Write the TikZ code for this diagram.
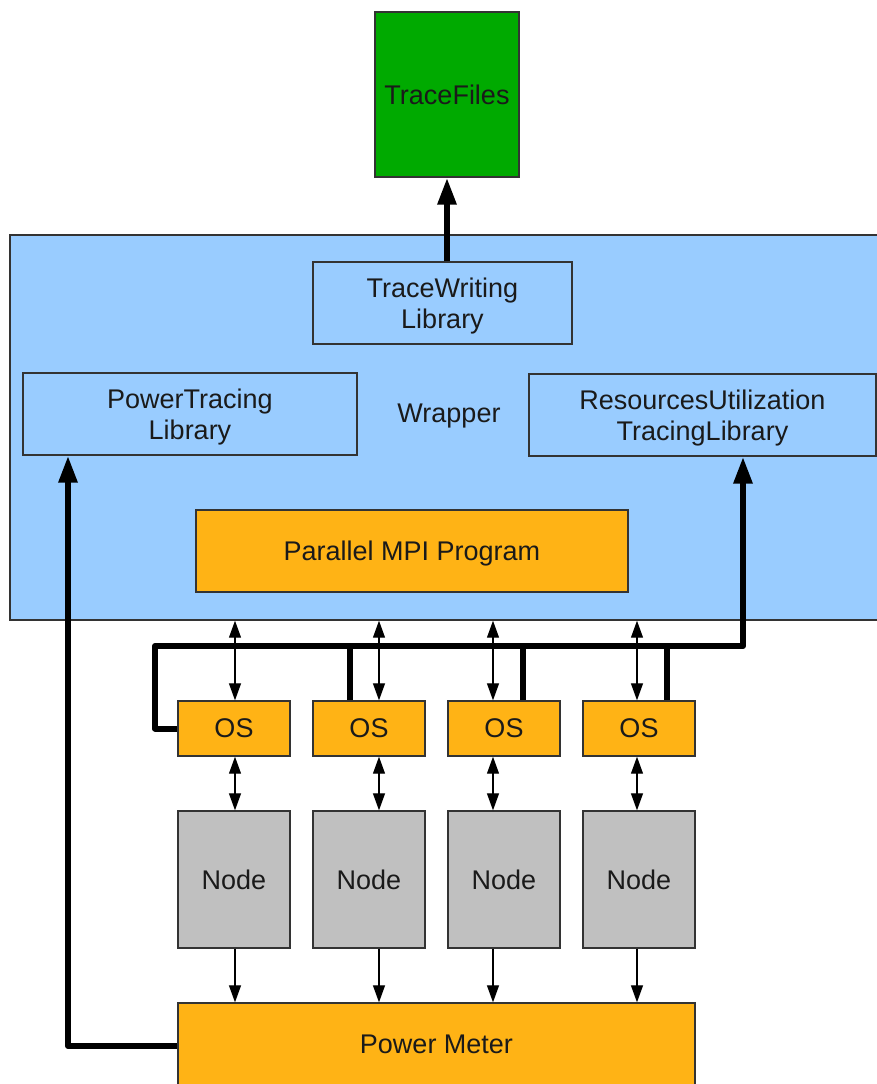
\documentclass[tikz,border=0pt]{standalone}
\usepackage{fontspec}
\setmainfont{Liberation Sans}
\usetikzlibrary{arrows.meta}
\definecolor{wrapblue}{HTML}{99CCFF}
\definecolor{orfill}{HTML}{FFB315}
\definecolor{trgreen}{HTML}{00AA00}
\definecolor{ndgray}{HTML}{C0C0C0}
\definecolor{bord}{HTML}{333333}
\definecolor{txt}{HTML}{1A1A1A}
\begin{document}
\begin{tikzpicture}[x=0.5pt,y=-0.5pt,
  font=\fontsize{13.5}{15.5}\selectfont,
  box/.style={draw=bord, line width=0.7pt, inner sep=0pt, text=txt, align=center, text depth=0pt},
  bluebox/.style={box, fill=wrapblue},
  orbox/.style={box, fill=orfill},
  graybox/.style={box, fill=ndgray},
  greenbox/.style={box, fill=trgreen},
  thin/.style={line width=0.6pt, -{Triangle[length=8.5pt,width=6pt]}},
  dbl/.style={line width=0.6pt, {Triangle[length=8.5pt,width=6pt]}-{Triangle[length=8.5pt,width=6pt]}},
  heavy/.style={line width=3pt, line join=round, -{Triangle[length=13.5pt,width=9pt]}},
  heavyline/.style={line width=3pt, line join=round}]
\useasboundingbox (0,0) rectangle (877,1084);
\begin{scope}
\clip (0,0) rectangle (877,1084);
\node[greenbox, minimum width=72pt, minimum height=82.5pt] (tf) at (447,94.5) {TraceFiles};
\node[bluebox, minimum width=440pt, minimum height=192.5pt] (wrap) at (450,427.5) {};
\node[text=txt, text depth=0pt] (wraplabel) at (449,413) {Wrapper};
\node[bluebox, minimum width=129.5pt, minimum height=41pt] (tw) at (442.5,303) {TraceWriting\\Library};
\node[bluebox, minimum width=167pt, minimum height=41pt] (pt) at (190,414) {PowerTracing\\Library};
\node[bluebox, minimum width=173.5pt, minimum height=41pt] (ru) at (702.5,415) {ResourcesUtilization\\TracingLibrary};
\node[orbox, minimum width=216pt, minimum height=41pt] (mpi) at (412,551) {Parallel MPI Program};
\foreach \i/\cx in {1/234,2/369,3/504,4/639}{
  \node[orbox, minimum width=56pt, minimum height=27.5pt] (os\i) at (\cx,728.5) {OS};
  \node[graybox, minimum width=56pt, minimum height=68.5pt] (nd\i) at (\cx,879.5) {Node};
}
\node[orbox, minimum width=258.5pt, minimum height=41.5pt] (pm) at (436.5,1044.5) {Power Meter};

% thick arrow to trace files
\draw[heavy] (tf.south |- tw.north) -- (tf.south);

% arrow columns
\foreach \i/\ax in {1/235,2/379,3/493,4/637}{
  \coordinate (a\i) at (\ax,0);
  \draw[dbl] (wrap.south -| a\i) -- (os\i.north -| a\i);
  \draw[dbl] (os\i.south -| a\i) -- (nd\i.north -| a\i);
  \draw[thin] (nd\i.south -| a\i) -- (pm.north -| a\i);
}

% resources utilization bus
\coordinate (busl) at (155,646);
\coordinate (busr) at (743,646);
\draw[heavy] (os1.west) -- (os1.west -| busl) -- (busl) -- (busr) -- (ru.south -| busr);
\foreach \i/\dx in {2/350,3/522.5,4/666.5}{
  \coordinate (d\i) at (\dx,646);
  \draw[heavyline] (d\i) -- (os\i.north -| d\i);
}

% power meter to power tracing
\coordinate (pml) at (68,1046);
\draw[heavy] (pm.west |- pml) -- (pml) -- (pt.south -| pml);
\end{scope}
\end{tikzpicture}
\end{document}
